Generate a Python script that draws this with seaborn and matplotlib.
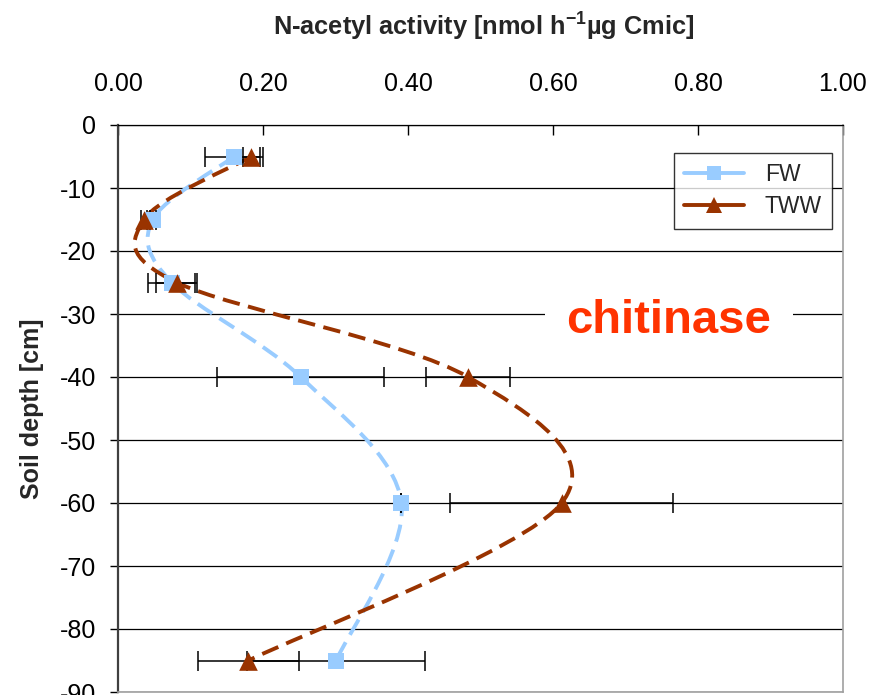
import numpy as np
import pandas as pd
import matplotlib
matplotlib.use("Agg")
import matplotlib.pyplot as plt
from matplotlib.path import Path
from matplotlib.patches import PathPatch
from matplotlib.lines import Line2D
import seaborn as sns

# ======================================================
# DATA
# ======================================================
depth = [-5, -15, -25, -40, -60, -85]

fw_activity = [0.160, 0.048, 0.074, 0.252, 0.391, 0.301]
fw_error = [0.040, 0.004, 0.032, 0.115, 0.000, 0.123]

tww_activity = [0.184, 0.036, 0.081, 0.483, 0.612, 0.180]
tww_error = [0.012, 0.004, 0.028, 0.058, 0.154, 0.069]

series_names = ['FW', 'TWW']
x_ticks = [0.0, 0.2, 0.4, 0.6, 0.8, 1.0]
y_ticks = [0, -10, -20, -30, -40, -50, -60, -70, -80, -90]

FW_COLOR = '#99CCFF'
TWW_COLOR = '#993300'

df = pd.DataFrame({
    'series': ['FW'] * len(depth) + ['TWW'] * len(depth),
    'activity': fw_activity + tww_activity,
    'depth': depth + depth,
})


def smooth_path(xs, ys):
    # Excel style smoothed line: cubic bezier with catmull-rom tangents
    pts = np.column_stack([xs, ys])
    verts = [pts[0]]
    codes = [Path.MOVETO]
    n = len(pts)
    for i in range(n - 1):
        p0 = pts[max(i - 1, 0)]
        p1 = pts[i]
        p2 = pts[i + 1]
        p3 = pts[min(i + 2, n - 1)]
        verts += [p1 + (p2 - p0) / 6, p2 - (p3 - p1) / 6, p2]
        codes += [Path.CURVE4] * 3
    return Path(verts, codes)


# ======================================================
# STYLE
# ======================================================
sns.set_style('white')
plt.rcParams['font.family'] = ['Liberation Sans', 'DejaVu Sans']
plt.rcParams['mathtext.fontset'] = 'custom'
plt.rcParams['mathtext.rm'] = 'Liberation Sans'
plt.rcParams['mathtext.bf'] = 'Liberation Sans:bold'

fig = plt.figure(figsize=(8.78, 6.95), dpi=100)
ax = fig.add_axes([118 / 878, 1 - 692 / 695, 725 / 878, 567 / 695])

# smoothed dashed lines
ax.add_patch(PathPatch(smooth_path(fw_activity, depth), facecolor='none',
                       edgecolor=FW_COLOR, lw=2.8, linestyle=(0, (4.5, 2.2)),
                       zorder=2, capstyle='butt'))
ax.add_patch(PathPatch(smooth_path(tww_activity, depth), facecolor='none',
                       edgecolor=TWW_COLOR, lw=2.8, linestyle=(0, (4.5, 2.2)),
                       zorder=2, capstyle='butt'))

# error bars
ax.errorbar(fw_activity, depth, xerr=fw_error, fmt='none', ecolor='black',
            elinewidth=1.1, capsize=7, capthick=1.1, zorder=3)
ax.errorbar(tww_activity, depth, xerr=tww_error, fmt='none', ecolor='black',
            elinewidth=1.1, capsize=7, capthick=1.1, zorder=3)

# markers
sns.scatterplot(data=df[df['series'] == 'FW'], x='activity', y='depth',
                marker='s', s=140, color=FW_COLOR, linewidth=0, ax=ax,
                zorder=4, legend=False)
sns.scatterplot(data=df[df['series'] == 'TWW'], x='activity', y='depth',
                marker='^', s=180, color=TWW_COLOR, linewidth=0, ax=ax,
                zorder=4, legend=False)

# ======================================================
# AXES
# ======================================================
ax.set_xlim(0, 1)
ax.set_ylim(-90, 0)
ax.xaxis.tick_top()
ax.set_xticks(x_ticks)
ax.set_xticklabels([f'{v:.2f}' for v in x_ticks])
ax.set_yticks(y_ticks)
ax.set_yticklabels([str(v) for v in y_ticks])
ax.tick_params(axis='x', direction='in', length=7, width=1, pad=21,
               labelsize=18, colors='black')
ax.tick_params(axis='y', direction='out', length=6, width=1, pad=10,
               labelsize=18, colors='black', left=True)
ax.set_xlabel('')
ax.set_ylabel('Soil depth [cm]', fontsize=18, fontweight='bold')
ax.yaxis.set_label_coords(-0.102, 0.5)

ax.yaxis.grid(True, color='black', lw=0.9)
ax.xaxis.grid(False)
ax.set_axisbelow(True)

ax.spines['left'].set_color('#404040')
ax.spines['left'].set_linewidth(1.6)
ax.spines['top'].set_color('black')
ax.spines['top'].set_linewidth(0.9)
ax.spines['right'].set_color('#A0A0A0')
ax.spines['right'].set_linewidth(1.2)
ax.spines['bottom'].set_color('#A0A0A0')
ax.spines['bottom'].set_linewidth(1.2)

fig.text(484 / 878, 1 - 27 / 695,
         'N-acetyl activity [nmol h$^{\\mathbf{-1}}$µg Cmic]',
         ha='center', va='center', fontsize=18.3, fontweight='bold')

ax.text(0.760, -33.0, 'chitinase', color='#FF3300', fontsize=34,
        fontweight='bold', ha='center', va='baseline', zorder=5,
        bbox=dict(boxstyle='square,pad=0.45', facecolor='white',
                  edgecolor='none'))

# legend
handles = [
    Line2D([], [], color=FW_COLOR, lw=2.8, marker='s', markersize=10,
           markeredgewidth=0),
    Line2D([], [], color=TWW_COLOR, lw=2.8, marker='^', markersize=11,
           markeredgewidth=0),
]
leg = ax.legend(handles, series_names, loc='upper right',
                bbox_to_anchor=(0.985, 0.9506), borderaxespad=0,
                fontsize=16.5, frameon=True, fancybox=False,
                handlelength=2.6, handletextpad=0.9, borderpad=0.45,
                labelspacing=0.4)
leg.get_frame().set_edgecolor('black')
leg.get_frame().set_linewidth(1)
leg.set_zorder(6)

plt.savefig('out.png', dpi=100)
plt.close()
